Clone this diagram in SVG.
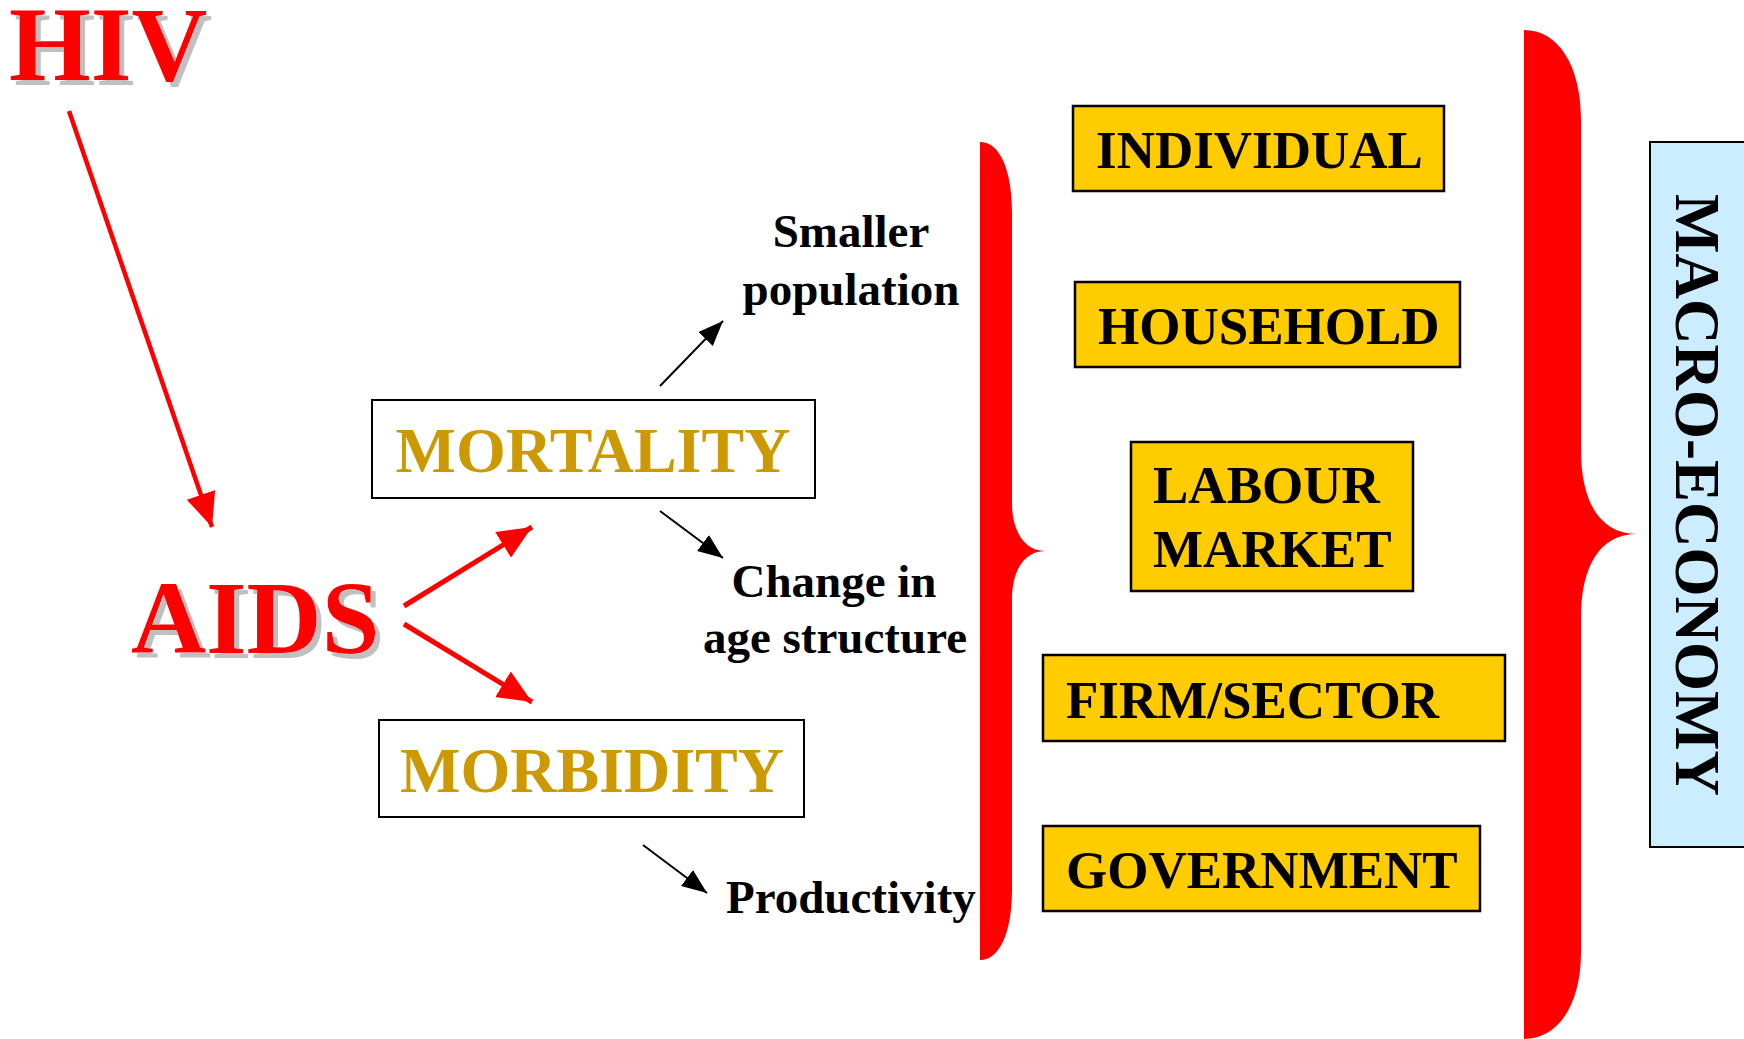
<svg xmlns="http://www.w3.org/2000/svg" width="1744" height="1039" viewBox="0 0 1744 1039">
<style>
.t{font-family:"Liberation Serif","Times New Roman",serif;font-weight:bold}
.big{font-size:105px;fill:#FF0000}
.gold{font-size:64px;fill:#CC9900}
.lbl{font-size:47px;fill:#000}
.box{fill:#FFCC00;stroke:#000;stroke-width:2.5}
.wbox{fill:#FFFFFF;stroke:#000;stroke-width:2}
.bt{font-size:53px;fill:#000}
.red{stroke:#FF0000;fill:none}
.blk{stroke:#000;stroke-width:2;fill:none}
.brace{fill:#FF0000}
</style>
<defs>
<filter id="shadow" x="-5%" y="-20%" width="115%" height="150%">
<feFlood flood-color="#C0C0C0" result="c"/>
<feComposite in="c" in2="SourceAlpha" operator="in" result="s"/>
<feOffset in="s" dx="5" dy="5" result="o"/>
<feMerge><feMergeNode in="o"/><feMergeNode in="SourceGraphic"/></feMerge>
</filter>
<marker id="ra" markerUnits="userSpaceOnUse" markerWidth="36" markerHeight="30" refX="34" refY="15" orient="auto">
<path d="M0,0 L34,15 L0,30 z" fill="#FF0000"/>
</marker>
<marker id="ba" markerUnits="userSpaceOnUse" markerWidth="26" markerHeight="20" refX="25" refY="10" orient="auto">
<path d="M0,0 L25,10 L0,20 z" fill="#000"/>
</marker>
</defs>
<rect width="1744" height="1039" fill="#FFFFFF"/>

<g id="connectors">
<line class="red" x1="69" y1="111" x2="212" y2="527" stroke-width="4.5" marker-end="url(#ra)"/>
<line class="red" x1="404" y1="606" x2="532" y2="527" stroke-width="5" marker-end="url(#ra)"/>
<line class="red" x1="404" y1="624" x2="532" y2="702" stroke-width="5" marker-end="url(#ra)"/>
<line class="blk" x1="660" y1="386" x2="723" y2="321" marker-end="url(#ba)"/>
<line class="blk" x1="660" y1="511" x2="723" y2="558" marker-end="url(#ba)"/>
<line class="blk" x1="643" y1="845" x2="707" y2="893" marker-end="url(#ba)"/>
</g>

<g id="hiv">
<text class="t big" x="9" y="80" filter="url(#shadow)">HIV</text>
</g>

<g id="aids">
<text class="t big" x="131" y="653" style="font-size:104px" filter="url(#shadow)">AIDS</text>
</g>

<g id="mortality">
<rect class="wbox" x="372" y="400" width="443" height="98"/>
<text class="t gold" x="593" y="472" text-anchor="middle">MORTALITY</text>
</g>

<g id="morbidity">
<rect class="wbox" x="379" y="720" width="425" height="97"/>
<text class="t gold" x="592" y="792" text-anchor="middle">MORBIDITY</text>
</g>

<g id="smaller-population">
<text class="t lbl" x="851" y="247" text-anchor="middle">Smaller</text>
<text class="t lbl" x="851" y="305" text-anchor="middle">population</text>
</g>

<g id="age-structure">
<text class="t lbl" x="834" y="597" text-anchor="middle">Change in</text>
<text class="t lbl" x="835" y="653" text-anchor="middle">age structure</text>
</g>

<g id="productivity">
<text class="t lbl" x="726" y="913">Productivity</text>
</g>

<g id="brace-micro">
<path class="brace" d="M980,142 C1000,142 1012,170 1012,213 L1012,503 C1012,532 1025,551 1045,551 C1025,551 1012,570 1012,599 L1012,889 C1012,932 1000,960 980,960 Z"/>
</g>

<g id="individual">
<rect class="box" x="1073" y="106" width="371" height="85"/>
<text class="t bt" x="1096" y="168">INDIVIDUAL</text>
</g>

<g id="household">
<rect class="box" x="1075" y="282" width="385" height="85"/>
<text class="t bt" x="1098" y="344">HOUSEHOLD</text>
</g>

<g id="labour-market">
<rect class="box" x="1131" y="442" width="282" height="149"/>
<text class="t bt" x="1153" y="503">LABOUR</text>
<text class="t bt" x="1153" y="567">MARKET</text>
</g>

<g id="firm-sector">
<rect class="box" x="1043" y="655" width="462" height="86"/>
<text class="t bt" x="1066" y="718">FIRM/SECTOR</text>
</g>

<g id="government">
<rect class="box" x="1043" y="826" width="437" height="85"/>
<text class="t bt" x="1066" y="888">GOVERNMENT</text>
</g>

<g id="brace-macro">
<path class="brace" d="M1524,30 C1558,30 1581,65 1581,120 L1581,450 C1581,502 1600,534 1637,534 C1600,534 1581,566 1581,618 L1581,952 C1581,1005 1558,1039 1524,1039 Z"/>
</g>

<g id="macro-economy">
<rect x="1650" y="142" width="100" height="705" fill="#CCECFF" stroke="#000" stroke-width="2"/>
<text class="t" x="0" y="0" text-anchor="middle" transform="translate(1676,495) rotate(90)" style="font-size:63px;fill:#000">MACRO-ECONOMY</text>
</g>
</svg>
